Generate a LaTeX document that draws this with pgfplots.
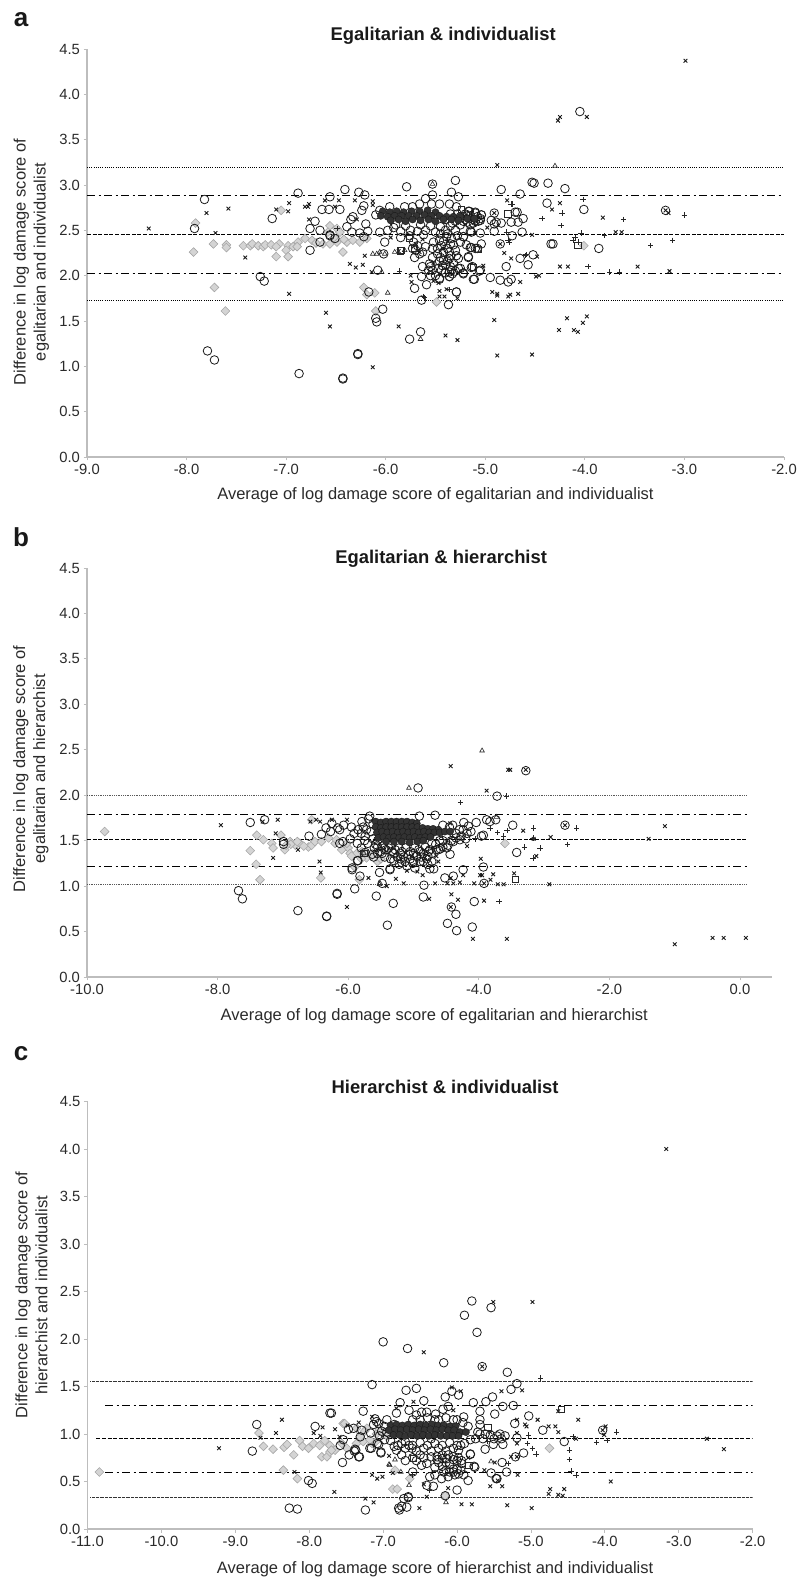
\documentclass[border=0pt]{standalone}
\usepackage{fontspec}
\setmainfont{Liberation Sans}
\usepackage{pgfplots}
\pgfplotsset{compat=1.18}
\definecolor{axgray}{HTML}{BDBDBD}
\definecolor{txt}{HTML}{2A2A2A}
\pgfplotsset{
 cir/.style={only marks,mark=o,mark size=4.3pt,mark options={line width=.8pt,draw=black!90,fill=none}},
 cor/.style={only marks,mark=*,mark size=3.6pt,mark options={line width=.4pt,draw=black!90,fill=black!80}},
 xx/.style={only marks,mark=x,mark size=2.6pt,mark options={line width=.9pt,draw=black!90}},
 pp/.style={only marks,mark=+,mark size=2.7pt,mark options={line width=.7pt,draw=black!85}},
 tri/.style={only marks,mark=triangle,mark size=2.7pt,mark options={line width=.6pt,draw=black!85,fill=none}},
 sq/.style={only marks,mark=square,mark size=3.2pt,mark options={line width=1pt,draw=black!85,fill=none}},
 dia/.style={only marks,mark=square*,mark size=3.1pt,mark options={rotate=45,line width=.6pt,draw=black!35,fill=black!17}},
 ld/.style={black,line width=1pt,dash pattern=on 4pt off 1.6pt,forget plot},
 ldd/.style={black,line width=1.1pt,dash pattern=on 8pt off 3.5pt on 2pt off 3.5pt,forget plot},
 lt/.style={black,line width=.8pt,dash pattern=on 1pt off 1.2pt,forget plot},
 ltb/.style={black!65,line width=.8pt,dash pattern=on 1pt off .8pt,forget plot},
 ltc/.style={black!80,line width=.7pt,dash pattern=on .9pt off .4pt,forget plot},
 panel/.style={
  scale only axis,anchor=south west,
  axis lines=left,axis line style={draw=axgray,line width=1.1pt,-},
  tick style={draw=axgray,line width=.8pt},major tick length=3.5pt,tick align=outside,
  ymin=0,ymax=4.5,ytick={0,0.5,...,4.5},
  font=\fontsize{16.5}{20}\selectfont,
  every tick label/.append style={text=txt,font=\fontsize{14.8}{17}\selectfont},
  label style={text=txt},
  xlabel style={anchor=center},
  ylabel style={anchor=center,align=center},
  title style={anchor=center,font=\fontsize{18.4}{20}\selectfont\bfseries,text=black!90},
  /pgf/number format/assume math mode=true,
  /pgf/number format/fixed,/pgf/number format/fixed zerofill,/pgf/number format/precision=1,
  xticklabel style={/pgf/number format/fixed,/pgf/number format/fixed zerofill,/pgf/number format/precision=1},
  yticklabel style={/pgf/number format/fixed,/pgf/number format/fixed zerofill,/pgf/number format/precision=1},
 }
}
\begin{document}
\begin{tikzpicture}
\useasboundingbox (0pt,0pt) rectangle (799pt,1579pt);
\node[font=\fontsize{26}{28}\selectfont\bfseries,text=black!90] at (21pt,1559pt) {a};
\node[font=\fontsize{26}{28}\selectfont\bfseries,text=black!90] at (21pt,1042pt) {b};
\node[font=\fontsize{26}{28}\selectfont\bfseries,text=black!90] at (21pt,525pt) {c};
% ---------- panel a
\begin{axis}[panel,at={(87pt,1122pt)},width=697pt,height=408pt,xmin=-9,xmax=-2,xtick={-9,-8,...,-2},
 title={Egalitarian \& individualist},title style={at={(axis description cs:0.511,1.017)}},
 xlabel={Average of log damage score of egalitarian and individualist},xlabel style={at={(axis description cs:0.50,-0.093)}},
 ylabel={Difference in log damage score of\\egalitarian and individualist},ylabel style={at={(axis description cs:-0.08,0.478)}}]
\addplot[lt] coordinates {(-9,3.19) (-2,3.19)};
\addplot[ldd] coordinates {(-9,2.88) (-2,2.88)};
\addplot[ld] coordinates {(-9,2.455) (-2,2.455)};
\addplot[ldd] coordinates {(-9,2.025) (-2,2.025)};
\addplot[lt] coordinates {(-9,1.73) (-2,1.73)};
\addplot[dia] coordinates {(-7.93,2.26)(-7.91,2.58)(-7.73,2.35)(-7.6,2.34)(-7.6,2.31)(-7.43,2.33)(-7.36,2.33)(-7.34,2.35)(-7.28,2.33)(-7.23,2.32)(-7.21,2.34)(-7.15,2.34)(-7.07,2.35)(-7.1,2.32)(-6.98,2.33)(-6.93,2.32)(-6.88,2.37)(-6.89,2.32)(-6.81,2.41)(-6.74,2.39)(-7.0,2.28)(-7.1,2.21)(-6.98,2.21)(-6.43,2.26)(-6.56,2.55)(-6.49,2.52)(-6.63,2.35)(-6.56,2.35)(-6.49,2.37)(-6.39,2.37)(-6.33,2.39)(-6.26,2.37)(-6.19,2.41)(-6.46,2.48)(-6.58,2.48)(-7.05,2.72)(-7.72,1.87)(-7.61,1.61)(-6.22,1.87)(-6.11,1.81)(-6.19,1.79)(-6.1,1.61)(-5.49,1.71)(-4.01,2.33)(-6.7,2.36)(-6.52,2.42)(-6.42,2.4)};
\addplot[cir] coordinates {(-7.82,2.84)(-7.92,2.52)(-7.14,2.63)(-6.88,2.91)(-7.79,1.17)(-7.72,1.07)(-6.87,0.92)(-6.43,0.86)(-6.43,0.87)(-6.28,1.14)(-6.28,1.13)(-7.26,1.99)(-7.22,1.94)(-6.76,2.28)(-6.41,2.95)(-6.56,2.87)(-6.27,2.92)(-6.21,2.89)(-6.64,2.73)(-6.57,2.73)(-6.46,2.73)(-6.71,2.60)(-6.76,2.52)(-6.66,2.50)(-6.56,2.45)(-6.56,2.44)(-6.66,2.37)(-6.51,2.41)(-6.39,2.54)(-6.35,2.62)(-6.22,2.77)(-6.24,2.72)(-6.33,2.65)(-6.34,2.48)(-6.26,2.47)(-6.18,2.49)(-6.22,2.43)(-6.2,2.57)(-6.1,2.67)
(-4.05,3.81)(-3.19,2.72)(-5.30,3.05)(-5.53,3.01)(-5.79,2.98)(-4.84,2.95)(-4.53,3.03)(-4.51,3.02)(-4.37,3.02)(-4.2,2.96)(-4.65,2.9)(-5.34,2.92)(-5.27,2.87)(-5.53,2.89)(-4.38,2.80)(-4.01,2.73)(-3.86,2.30)(-4.32,2.35)(-4.34,2.35)(-4.52,2.23)(-4.85,2.35)(-4.73,2.44)(-4.63,2.48)(-4.91,2.49)(-4.91,2.69)(-4.70,2.70)(-4.68,2.70)(-4.62,2.63)(-4.67,2.59)(-4.74,2.59)(-4.84,2.58)(-4.89,2.59)(-4.94,2.61)(-4.91,2.57)(-5.04,2.35)(-5.08,2.30)(-5.14,2.31)(-5.19,2.34)(-5.17,2.21)(-5.05,2.47)(-5.15,2.49)(-5.22,2.43)(-5.04,2.67)(-5.1,2.70)(-5.16,2.71)(-5.07,2.6)
(-4.57,2.12)(-4.65,2.19)(-4.79,2.10)(-4.74,1.96)(-4.77,1.93)(-4.85,1.95)(-4.95,1.98)(-5.12,1.96)(-5.06,2.05)(-5.13,2.10)(-5.22,2.03)(-5.27,2.08)(-5.29,1.82)(-5.37,1.68)(-5.64,1.73)(-5.65,1.38)(-5.76,1.30)(-5.71,1.86)(-5.59,1.90)(-5.64,1.99)(-5.46,1.97)(-5.36,1.99)(-5.36,2.04)(-5.44,2.06)(-5.55,2.1)(-5.63,2.1)(-5.55,2.0)(-6.17,1.82)(-6.03,1.63)(-6.10,1.53)(-6.09,1.49)(-6.08,2.06)(-5.73,2.30)(-5.70,2.28)(-5.71,2.20)(-5.66,2.24)(-5.63,2.26)(-5.53,2.30)(-5.52,2.37)(-5.46,2.39)(-5.39,2.43)(-5.34,2.41)(-5.25,2.37)(-5.22,2.43)(-5.14,2.48)(-5.15,2.31)(-5.10,2.30)(-5.17,2.20)(-5.53,2.20)(-5.46,2.16)(-5.43,2.11)(-5.56,2.13)(-5.57,2.06)(-5.53,2.06)(-5.36,2.19)(-5.29,2.22)(-5.27,2.19)(-5.36,1.99)(-5.34,2.06)(-5.25,2.08)(-5.22,2.02)(-5.14,2.09)(-5.05,2.06)(-5.11,1.96)(-5.46,1.96)(-5.50,2.0)(-5.29,1.82)(-6.01,2.37)(-5.92,2.53)(-6.06,2.48)(-6.02,2.24)(-5.76,2.44)(-5.42,2.26)(-5.38,2.3)(-5.44,2.33)(-5.36,2.26)(-5.32,2.14)(-5.4,2.12)(-5.48,2.24)(-5.32,2.34)
(-5.96,2.76)(-6.06,2.72)(-5.81,2.76)(-5.73,2.76)(-5.6,2.85)(-5.66,2.79)(-5.54,2.79)(-5.46,2.79)(-5.36,2.79)(-5.29,2.76)(-5.17,2.71)(-5.10,2.69)(-5.04,2.67)(-5.98,2.5)(-5.85,2.49)(-5.75,2.5)(-5.68,2.49)(-5.6,2.5)(-5.5,2.48)(-5.4,2.5)(-5.3,2.5)(-5.9,2.56)(-5.8,2.55)(-5.65,2.56)(-5.55,2.55)(-5.45,2.54)(-5.35,2.55)(-5.25,2.56)(-5.15,2.56)(-5.22,2.6)(-5.12,2.62)(-5.18,2.66)(-5.1,2.6)(-5.05,2.61)
(-5.4,2.62)(-5.35,2.68)(-5.3,2.6)(-5.25,2.65)(-5.2,2.62)(-5.15,2.66)(-5.12,2.58)(-5.08,2.65)(-5.05,2.63)(-5.28,2.68)(-5.2,2.68)(-5.33,2.58)(-5.18,2.59)(-5.48,2.3)(-5.42,2.38)(-5.35,2.35)(-5.3,2.28)(-5.45,2.2)(-5.38,2.16)(-5.35,2.1)(-5.3,2.05)(-5.4,2.03)(-5.47,2.08)(-5.35,2.22)(-5.33,2.02)(-5.42,2.17)(-5.6,2.32)(-5.68,2.33)(-5.72,2.37)(-5.85,2.42)(-5.62,2.45)(-5.45,2.46)(-5.28,2.44)(-5.38,2.46)};
\addplot[cor] coordinates {(-6.03,2.71)(-5.96,2.7)(-5.89,2.71)(-5.82,2.7)(-5.74,2.71)(-5.66,2.71)(-5.58,2.72)(-5.5,2.7)(-6.05,2.66)(-5.98,2.65)(-5.91,2.66)(-5.84,2.66)(-5.77,2.66)(-5.69,2.66)(-5.61,2.67)(-5.54,2.66)(-5.46,2.66)(-5.39,2.65)(-5.32,2.65)(-5.25,2.65)(-5.95,2.61)(-5.87,2.62)(-5.8,2.6)(-5.73,2.62)(-5.65,2.61)(-5.57,2.62)(-5.5,2.6)(-5.42,2.62)(-5.34,2.62)(-5.27,2.61)(-5.18,2.63)(-5.11,2.63)};
\addplot[xx] coordinates {(-8.38,2.52)(-7.80,2.69)(-7.71,2.47)(-7.58,2.74)(-7.41,2.20)(-7.10,2.73)(-6.98,2.71)(-6.97,2.80)(-6.81,2.76)(-6.77,2.79)(-6.78,2.76)(-6.77,2.62)(-6.61,2.83)(-6.51,2.76)(-6.47,2.83)(-6.31,2.83)(-6.29,2.62)(-6.13,2.82)(-6.13,2.78)(-6.21,2.22)(-6.36,2.13)(-6.30,2.09)(-6.23,2.12)(-6.14,2.04)(-6.97,1.80)(-6.6,1.59)(-6.56,1.44)(-6.13,0.99)(-5.87,1.44)(-5.74,1.93)(-5.52,1.94)(-5.47,1.92)(-5.46,1.83)(-5.39,1.85)(-5.46,1.77)(-5.41,1.77)(-5.28,1.75)(-4.91,1.51)(-4.93,1.82)(-4.88,1.80)(-4.88,1.78)(-4.75,1.79)(-4.77,1.77)(-4.67,1.80)(-4.65,1.93)(-4.49,1.99)(-4.46,2.0)(-5.02,2.11)(-4.81,2.25)(-4.74,2.19)(-4.48,2.21)(-4.25,2.10)(-4.17,2.10)(-3.47,2.10)(-3.15,2.05)(-4.18,1.53)(-3.98,1.55)(-4.02,1.48)(-4.26,1.40)(-4.11,1.40)(-4.07,1.38)(-4.88,1.12)(-4.53,1.13)(-5.40,1.34)(-5.28,1.29)(-2.99,4.37)(-4.27,3.71)(-4.25,3.75)(-3.98,3.75)(-4.88,3.22)(-4.78,2.83)(-4.33,2.73)(-4.25,2.80)(-3.82,2.64)(-3.69,2.48)(-3.63,2.48)(-4.53,2.45)(-3.16,2.69)(-4.91,2.69)(-4.85,2.35)(-3.19,2.72)(-5.7,2.35)(-5.63,2.4)(-5.38,2.38)(-5.42,2.3)(-5.87,2.27)(-5.66,2.26)(-5.95,2.42)(-5.1,2.47)(-4.98,2.53)(-5.75,2.0)(-5.52,2.14)};
\addplot[pp] coordinates {(-4.73,2.79)(-4.02,2.84)(-4.23,2.69)(-4.43,2.63)(-4.24,2.55)(-3.61,2.62)(-3.0,2.67)(-4.04,2.47)(-3.8,2.44)(-4.79,2.48)(-4.76,2.37)(-4.10,2.42)(-4.12,2.39)(-4.07,2.37)(-3.34,2.33)(-3.12,2.39)(-4.59,2.23)(-3.97,2.10)(-3.75,2.04)(-3.65,2.04)(-5.36,1.85)(-5.62,1.77)(-5.86,2.05)(-6.49,2.52)(-5.61,1.76)(-4.74,2.79)(-4.77,2.39)(-4.6,2.22)};
\addplot[tri] coordinates {(-4.30,3.21)(-5.53,3.01)(-6.13,2.24)(-6.09,2.24)(-5.91,2.26)(-5.81,2.28)(-6.04,2.04)(-5.98,1.81)(-5.65,1.30)(-6.01,2.24)(-6.06,2.26)};
\addplot[sq] coordinates {(-5.85,2.27)(-5.76,2.41)(-5.12,2.09)(-5.07,2.29)(-4.77,2.68)(-5.24,2.73)(-4.07,2.33)(-5.84,2.28)(-5.71,2.30)};
\end{axis}
% ---------- panel b
\begin{axis}[panel,at={(87pt,602pt)},width=685pt,height=409pt,xmin=-10,xmax=0.49,xtick={-10,-8,...,0},
 title={Egalitarian \& hierarchist},title style={at={(axis description cs:0.517,1.009)}},
 xlabel={Average of log damage score of egalitarian and hierarchist},xlabel style={at={(axis description cs:0.507,-0.097)}},
 ylabel={Difference in log damage score of\\egalitarian and hierarchist},ylabel style={at={(axis description cs:-0.0818,0.509)}}]
\addplot[ltb] coordinates {(-10,1.993) (0.1,1.993)};
\addplot[ldd] coordinates {(-10,1.79) (0.1,1.79)};
\addplot[ld] coordinates {(-10,1.51) (0.1,1.51)};
\addplot[ldd] coordinates {(-10,1.22) (0.1,1.22)};
\addplot[ltb] coordinates {(-10,1.024) (0.1,1.024)};
\addplot[dia] coordinates {(-9.73,1.60)(-7.4,1.56)(-7.3,1.51)(-7.5,1.39)(-7.41,1.24)(-7.35,1.07)(-7.17,1.47)(-7.15,1.42)(-7.03,1.56)(-6.97,1.40)(-6.89,1.49)(-6.81,1.45)(-6.74,1.47)(-6.61,1.43)(-6.56,1.45)(-6.51,1.49)(-6.41,1.49)(-6.3,1.53)(-6.42,1.09)(-6.2,1.47)(-6.07,1.42)(-6.0,1.42)(-5.97,1.36)(-5.87,1.36)(-5.79,1.38)(-5.72,1.31)(-5.64,1.33)(-5.83,1.07)(-5.9,1.21)(-6.88,1.46)(-6.78,1.49)(-6.56,1.73)(-6.18,1.51)(-6.02,1.47)(-3.60,1.47)(-6.95,1.45)(-6.68,1.44)(-6.1,1.4)(-5.95,1.33)(-5.8,1.3)(-5.55,1.27)(-5.5,1.3)};
\addplot[cir] coordinates {(-7.5,1.70)(-7.28,1.73)(-6.99,1.49)(-6.99,1.46)(-7.68,0.95)(-7.62,0.86)(-6.77,0.73)(-6.33,0.67)(-6.33,0.665)(-6.17,0.92)(-6.17,0.91)(-5.4,0.57)(-5.31,0.81)(-5.57,0.89)(-5.90,0.97)(-5.48,1.03)(-5.52,1.15)(-5.36,1.19)(-5.36,1.18)(-5.44,1.32)(-5.63,1.35)(-5.74,1.37)(-5.86,1.28)(-5.94,1.20)(-5.94,1.18)(-5.82,1.11)(-6.6,1.55)(-6.41,1.57)(-6.34,1.64)(-6.27,1.60)(-6.25,1.69)(-6.13,1.62)(-6.16,1.64)(-6.07,1.67)(-5.95,1.65)(-5.91,1.58)(-6.13,1.47)(-6.08,1.49)(-5.86,1.47)(-5.79,1.71)(-5.74,1.55)(-5.67,1.77)(-5.69,1.74)(-5.6,1.42)(-5.45,1.42)(-5.33,1.38)(-5.77,1.65)
(-4.93,2.08)(-3.72,1.99)(-4.67,1.78)(-4.91,1.77)(-4.23,1.70)(-4.04,1.70)(-3.88,1.73)(-3.83,1.71)(-3.74,1.73)(-3.48,1.67)(-3.93,1.56)(-3.96,1.55)(-3.42,1.37)(-4.44,1.35)(-4.49,1.42)(-4.59,1.41)(-4.77,1.38)(-4.72,1.27)(-4.85,1.27)(-5.01,1.25)(-5.13,1.27)(-5.18,1.26)(-5.61,1.32)(-5.85,1.28)(-4.75,1.19)(-4.69,1.19)(-4.84,1.01)(-4.85,0.88)(-4.52,1.09)(-4.39,1.11)(-4.24,1.18)(-3.93,1.21)(-3.92,1.03)(-4.07,0.83)(-4.42,0.77)(-4.35,0.69)(-4.48,0.59)(-4.1,0.55)(-4.34,0.51)(-3.28,2.27)(-2.68,1.67)(-4.62,1.40)(-4.18,1.58)(-4.24,1.62)(-4.29,1.51)(-4.39,1.49)(-4.47,1.45)(-4.75,1.40)(-4.9,1.38)(-4.82,1.43)(-4.16,1.66)(-4.27,1.55)(-4.35,1.53)(-4.42,1.5)(-4.55,1.5)
(-5.55,1.43)(-5.5,1.38)(-5.42,1.4)(-5.35,1.45)(-5.28,1.4)(-5.2,1.36)(-5.12,1.42)(-5.05,1.38)(-4.98,1.42)(-4.95,1.33)(-5.25,1.32)(-5.15,1.32)(-5.05,1.3)(-5.3,1.28)(-4.88,1.32)(-4.8,1.3)(-5.55,1.5)(-5.62,1.52)(-5.65,1.6)(-5.62,1.68)(-4.66,1.46)(-4.72,1.47)(-4.6,1.5)(-4.55,1.43)(-5.1,1.22)(-4.98,1.2)(-5.22,1.24)(-4.78,1.24)
(-5.58,1.46)(-5.48,1.44)(-5.38,1.42)(-5.3,1.36)(-5.22,1.42)(-5.18,1.38)(-5.08,1.35)(-5.0,1.36)(-4.92,1.4)(-4.85,1.36)(-4.78,1.33)(-4.72,1.36)(-4.65,1.4)(-5.35,1.3)(-5.2,1.3)(-5.0,1.27)(-4.9,1.27)(-5.48,1.36)(-5.55,1.36)(-5.7,1.47)(-5.75,1.5)(-5.8,1.58)(-5.72,1.62)(-5.85,1.62)(-5.97,1.52)(-5.8,1.42)(-4.5,1.55)(-4.45,1.65)(-4.35,1.58)(-4.3,1.62)(-4.4,1.67)(-4.55,1.67)(-4.2,1.52)(-4.12,1.6)};
\addplot[cor] coordinates {(-5.58,1.71)(-5.5,1.7)(-5.42,1.71)(-5.34,1.71)(-5.26,1.71)(-5.18,1.71)(-5.1,1.71)(-5.02,1.7)(-4.95,1.69)(-5.58,1.65)(-5.5,1.64)(-5.42,1.65)(-5.34,1.65)(-5.26,1.65)(-5.18,1.65)(-5.1,1.65)(-5.02,1.65)(-4.94,1.65)(-4.86,1.64)(-4.78,1.63)(-4.7,1.63)(-4.62,1.62)(-5.56,1.59)(-5.48,1.6)(-5.4,1.59)(-5.32,1.6)(-5.24,1.59)(-5.16,1.6)(-5.08,1.59)(-5.0,1.6)(-4.92,1.59)(-4.84,1.6)(-4.76,1.59)(-4.68,1.59)(-4.6,1.59)(-4.52,1.6)(-4.44,1.6)(-5.54,1.53)(-5.46,1.54)(-5.38,1.53)(-5.3,1.54)(-5.22,1.53)(-5.14,1.54)(-5.06,1.53)(-4.98,1.54)(-4.9,1.53)(-4.82,1.54)(-4.74,1.54)(-5.42,1.49)(-5.3,1.49)(-5.18,1.49)(-5.06,1.48)(-4.94,1.49)(-4.85,1.5)};
\addplot[xx] coordinates {(-7.95,1.67)(-7.31,1.71)(-7.11,1.58)(-7.08,1.73)(-7.15,1.31)(-6.77,1.40)(-6.58,1.71)(-6.49,1.73)(-6.43,1.71)(-6.44,1.27)(-6.42,1.15)(-6.02,0.77)(-5.69,1.09)(-5.27,1.08)(-5.41,1.0)(-6.02,1.73)(-6.25,1.73)(-4.43,2.32)(-3.55,2.28)(-3.52,2.28)(-3.88,2.05)(-1.15,1.66)(-4.44,1.69)(-3.32,1.61)(-3.16,1.52)(-2.9,1.54)(-1.40,1.52)(-4.18,1.44)(-3.97,1.30)(-3.12,1.33)(-5.1,1.17)(-4.94,1.16)(-4.86,1.12)(-4.62,1.27)(-4.65,1.33)(-4.24,1.12)(-3.98,1.12)(-3.95,1.12)(-3.78,1.13)(-3.82,1.07)(-3.46,1.14)(-4.43,1.09)(-5.15,1.03)(-4.67,1.03)(-4.48,1.03)(-4.39,1.03)(-4.29,1.04)(-4.07,1.03)(-3.71,1.02)(-3.62,1.02)(-2.92,1.02)(-4.76,0.86)(-4.42,0.91)(-4.32,0.85)(-3.92,0.84)(-4.09,0.42)(-3.57,0.42)(-1.0,0.36)(-0.42,0.43)(-0.25,0.43)(0.09,0.43)(-2.68,1.67)(-3.92,1.03)(-4.43,0.77)(-3.28,2.28)};
\addplot[pp] coordinates {(-4.28,1.92)(-3.58,1.99)(-3.83,1.64)(-3.71,1.59)(-3.57,1.61)(-3.62,1.55)(-3.16,1.64)(-2.5,1.64)(-4.06,1.52)(-3.17,1.53)(-2.64,1.46)(-3.30,1.43)(-3.06,1.42)(-3.17,1.31)(-3.69,0.83)};
\addplot[tri] coordinates {(-3.95,2.49)(-5.07,2.08)(-5.51,1.03)(-3.73,1.76)(-5.52,1.02)(-5.76,1.36)};
\addplot[sq] coordinates {(-3.44,1.07)(-5.76,1.36)};
\end{axis}
% ---------- panel c
\begin{axis}[panel,at={(87.5pt,50pt)},width=665.2pt,height=427.5pt,xmin=-11,xmax=-2,xtick={-11,-10,...,-2},
 title={Hierarchist \& individualist},title style={at={(axis description cs:0.5376,1.02)}},
 xlabel={Average of log damage score of hierarchist and individualist},xlabel style={at={(axis description cs:0.5226,-0.0936)}},
 ylabel={Difference in log damage score of\\hierarchist and individualist},ylabel style={at={(axis description cs:-0.0842,0.547)}}]
\addplot[ltc] coordinates {(-10.96,1.555) (-2,1.555)};
\addplot[ldd] coordinates {(-10.76,1.30) (-2,1.30)};
\addplot[ld] coordinates {(-10.88,0.95) (-2,0.95)};
\addplot[ldd] coordinates {(-10.76,0.59) (-2,0.59)};
\addplot[ltc] coordinates {(-10.96,0.33) (-2,0.33)};
\addplot[dia] coordinates {(-10.84,0.60)(-8.68,1.01)(-8.62,0.87)(-8.49,0.84)(-8.34,0.86)(-8.3,0.89)(-8.21,0.78)(-8.35,0.62)(-8.16,0.53)(-8.13,0.93)(-8.09,0.87)(-8.01,0.85)(-7.94,0.90)(-7.86,0.88)(-7.79,0.93)(-7.72,0.88)(-7.83,0.76)(-7.76,0.76)(-7.72,0.81)(-7.65,0.83)(-7.54,1.11)(-7.49,0.85)(-7.36,0.90)(-7.27,0.92)(-7.15,0.90)(-7.09,1.0)(-7.22,1.06)(-7.36,1.06)(-6.84,0.62)(-6.87,0.42)(-6.81,0.42)(-7.0,1.0)(-7.05,1.05)(-7.1,0.92)(-6.64,0.53)(-7.52,1.11)(-7.18,0.94)(-7.31,0.97)(-7.56,0.90)(-7.70,0.83)(-4.75,0.85)(-6.16,0.35)(-7.25,1.03)(-6.95,0.98)};
\addplot[cir] coordinates {(-7.0,1.97)(-7.15,1.52)(-7.72,1.22)(-8.71,1.10)(-8.77,0.82)(-7.92,1.08)(-7.27,1.24)(-7.47,1.05)(-7.40,1.06)(-7.29,1.04)(-7.09,1.13)(-7.17,1.01)(-7.31,0.97)(-7.58,0.88)(-7.54,0.94)(-7.16,0.85)(-7.46,0.78)(-7.39,0.82)(-7.37,0.83)(-7.33,0.76)(-7.55,0.70)(-8.01,0.51)(-7.96,0.48)(-8.27,0.22)(-8.16,0.21)(-7.24,0.20)(-6.78,0.20)(-6.77,1.33)(-6.82,1.22)(-7.08,0.90)(-7.03,0.81)(-6.98,0.94)
(-5.80,2.40)(-5.54,2.33)(-5.9,2.25)(-5.73,2.07)(-6.67,1.90)(-6.18,1.75)(-5.66,1.71)(-5.32,1.65)(-5.19,1.53)
(-6.69,1.46)(-6.55,1.48)(-6.45,1.35)(-6.16,1.39)(-6.07,1.45)(-5.98,1.41)(-5.52,1.39)(-5.61,1.34)(-5.78,1.33)(-5.27,1.47)(-5.24,1.30)(-5.38,1.29)(-5.49,1.21)(-5.69,1.24)(-6.12,1.29)(-6.19,1.26)(-6.41,1.23)(-6.48,1.23)(-6.65,1.25)(-7.70,1.22)(-6.29,1.21)(-5.91,1.18)(-5.69,1.15)(-5.69,1.10)(-5.22,1.11)(-5.03,1.19)(-4.84,1.04)(-5.85,1.08)(-5.82,0.94)(-5.19,0.96)(-5.62,0.84)(-5.51,0.89)(-5.38,0.89)(-5.1,0.80)(-5.21,0.76)(-5.39,0.70)(-5.54,0.59)(-5.47,0.53)(-5.85,0.51)(-5.82,0.79)(-5.82,0.785)(-5.77,0.66)(-5.91,0.57)(-6.0,0.41)(-6.16,0.35)(-6.32,0.45)(-6.41,0.46)(-6.37,0.55)(-6.21,0.53)(-6.41,0.69)(-6.27,0.73)(-6.14,0.74)(-5.98,0.83)(-6.05,0.73)(-5.94,0.69)(-6.18,0.60)(-6.03,0.57)(-6.48,0.67)(-6.61,0.85)(-6.7,0.85)(-6.82,0.83)(-7.06,0.89)(-7.18,0.85)(-7.03,0.80)(-7.32,0.76)(-7.38,0.84)(-7.13,1.10)(-7.11,1.16)(-7.06,1.11)(-6.68,0.23)(-6.72,0.32)(-6.66,0.34)(-6.75,0.24)(-6.79,0.22)(-4.55,0.92)(-4.03,1.04)(-5.76,0.65)(-5.33,0.60)(-5.46,0.53)(-6.66,0.33)(-5.69,1.0)(-5.62,1.0)(-5.55,0.99)(-5.46,0.98)
(-6.85,0.87)(-6.75,0.9)(-6.65,0.88)(-6.55,0.82)(-6.45,0.85)(-6.35,0.82)(-6.25,0.85)(-6.15,0.82)(-6.05,0.85)(-5.95,0.88)(-6.6,0.75)(-6.5,0.78)(-6.35,0.76)(-6.2,0.78)(-6.1,0.68)(-6.3,0.65)(-6.2,0.66)(-6.05,0.63)(-5.95,0.62)(-6.6,1.15)(-6.5,1.15)(-6.4,1.17)(-6.25,1.15)(-6.15,1.17)(-6.05,1.15)(-6.95,1.15)(-6.85,1.1)(-6.6,0.6)(-6.3,0.57)(-6.12,0.55)(-6.0,0.72)(-6.35,0.95)
(-6.9,0.93)(-6.8,0.88)(-6.7,0.92)(-6.6,0.88)(-6.5,0.91)(-6.4,0.88)(-6.3,0.9)(-6.2,0.88)(-6.1,0.91)(-6.0,0.88)(-5.9,0.9)(-6.27,0.76)(-6.2,0.74)(-6.12,0.78)(-6.05,0.76)(-5.98,0.75)(-5.94,0.72)(-6.15,0.7)(-6.25,0.7)(-6.1,0.6)(-6.05,0.6)(-5.98,0.58)(-6.0,0.63)(-6.15,0.62)(-6.45,0.75)(-6.55,0.72)(-6.75,0.78)(-6.7,0.72)(-5.75,0.95)(-5.72,1.02)(-5.65,0.95)(-5.5,0.95)(-5.42,1.0)(-5.4,0.95)(-5.35,0.98)(-7.02,1.03)(-6.95,1.02)(-6.98,1.08)(-7.05,0.98)(-6.55,1.2)(-6.3,1.15)(-6.0,1.15)(-5.92,1.12)};
\addplot[cor] coordinates {(-6.9,1.09)(-6.82,1.1)(-6.74,1.09)(-6.66,1.1)(-6.58,1.09)(-6.5,1.1)(-6.42,1.09)(-6.34,1.1)(-6.26,1.09)(-6.18,1.09)(-6.1,1.08)(-6.02,1.08)(-6.92,1.04)(-6.84,1.05)(-6.76,1.04)(-6.68,1.05)(-6.6,1.04)(-6.52,1.05)(-6.44,1.04)(-6.36,1.05)(-6.28,1.04)(-6.2,1.05)(-6.12,1.04)(-6.04,1.04)(-5.96,1.02)(-5.88,1.02)(-6.86,0.99)(-6.78,0.99)(-6.7,0.98)(-6.62,0.99)(-6.54,0.98)(-6.46,0.99)(-6.38,0.98)(-6.3,0.99)(-6.22,0.98)(-6.14,0.98)(-6.06,0.98)(-5.98,0.98)};
\addplot[xx] coordinates {(-3.17,4.0)(-4.98,2.39)(-5.51,2.39)(-6.45,1.86)(-5.66,1.71)(-9.22,0.85)(-8.37,1.15)(-8.45,1.01)(-8.66,0.96)(-8.20,0.60)(-7.94,1.01)(-7.82,1.07)(-7.85,0.98)(-7.65,1.05)(-7.59,0.97)(-7.48,1.09)(-7.33,1.12)(-7.66,0.39)(-7.24,0.32)(-7.13,0.28)(-7.15,0.57)(-7.08,0.53)(-7.01,0.55)(-6.87,0.59)(-6.92,0.77)(-6.82,1.27)(-7.15,1.18)(-6.07,1.49)(-5.95,1.45)(-6.59,1.34)(-6.05,1.25)(-5.40,1.45)(-5.12,1.46)(-4.63,1.24)(-4.36,1.15)(-4.91,1.15)(-5.19,1.15)(-5.06,1.08)(-4.76,1.08)(-4.67,1.08)(-4.63,1.02)(-5.08,1.10)(-5.19,1.01)(-5.19,0.9)(-3.99,1.08)(-4.01,0.99)(-4.39,0.95)(-2.62,0.95)(-2.39,0.84)(-3.92,0.50)(-5.18,0.57)(-5.27,0.76)(-5.19,0.76)(-5.49,0.70)(-5.63,0.62)(-5.55,0.45)(-5.39,0.45)(-4.74,0.42)(-4.55,0.42)(-4.76,0.37)(-4.63,0.36)(-4.57,0.35)(-6.41,0.34)(-6.12,0.43)(-6.45,0.47)(-6.51,0.22)(-5.94,0.26)(-5.80,0.26)(-5.32,0.25)(-4.99,0.22)(-4.03,1.04)(-5.55,1.02)(-5.45,0.51)(-5.85,0.75)};
\addplot[pp] coordinates {(-4.87,1.59)(-5.03,0.99)(-5.05,0.90)(-4.98,0.85)(-4.93,0.79)(-3.84,1.02)(-4.11,0.91)(-3.97,0.93)(-4.48,0.83)(-4.48,0.73)(-4.46,0.61)(-4.39,0.56)(-4.43,0.97)(-5.31,0.69)(-6.61,0.57)(-6.37,0.41)(-5.59,0.92)};
\addplot[tri] coordinates {(-6.92,0.68)(-6.84,0.73)(-6.65,0.46)(-6.15,0.28)(-6.76,0.60)(-5.54,0.71)(-6.91,0.67)};
\addplot[sq] coordinates {(-4.59,1.26)(-5.58,1.07)(-5.84,0.67)(-6.59,0.74)};
\end{axis}
\end{tikzpicture}
\end{document}
